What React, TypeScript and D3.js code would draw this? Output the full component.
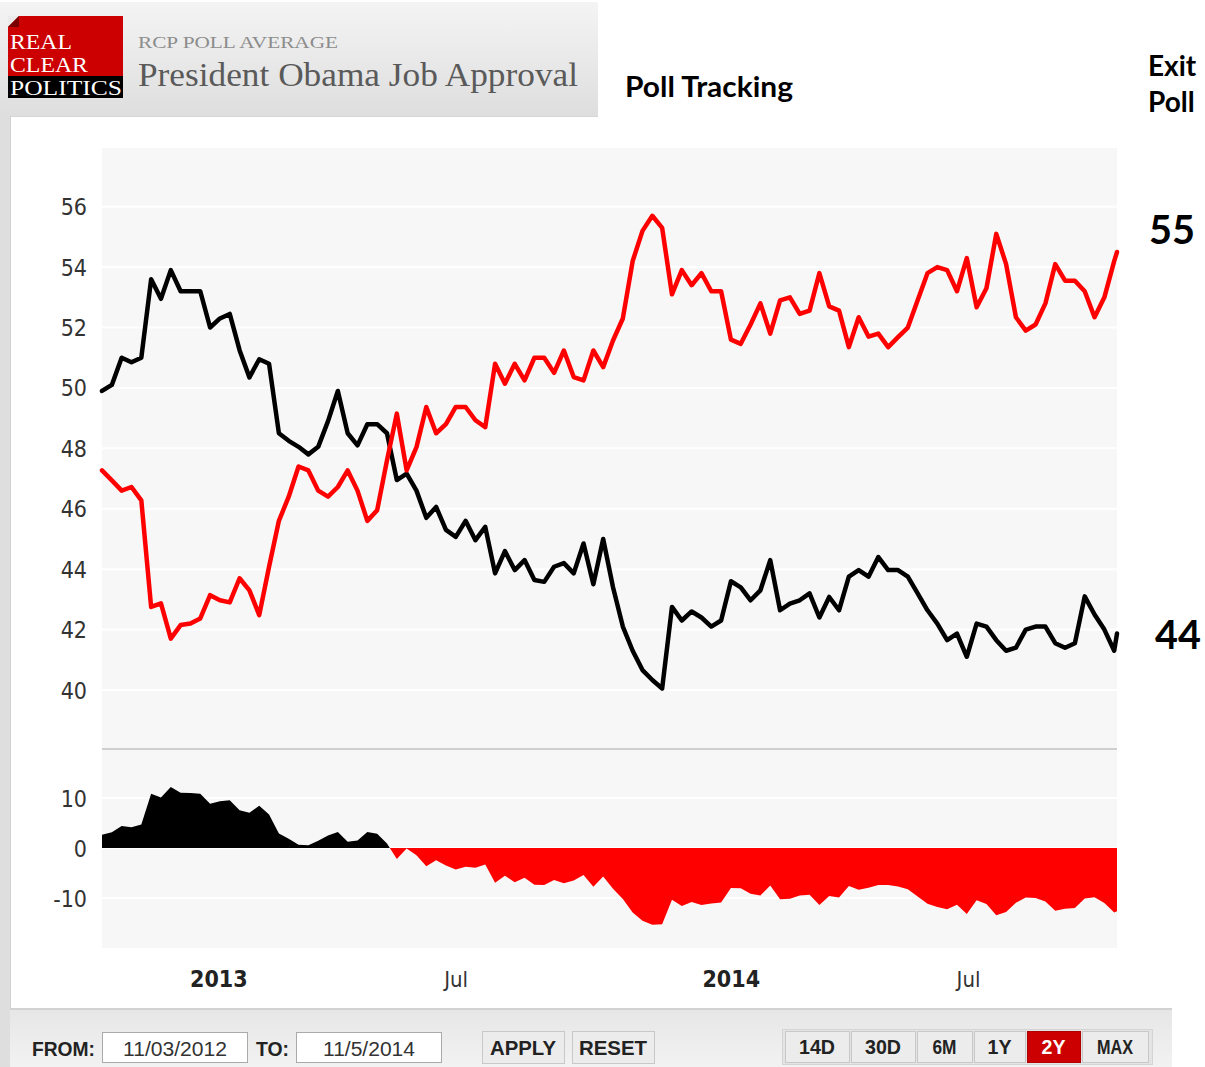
import React from 'react';
import * as d3 from 'd3';

const START = new Date(2012, 9, 31);
const END = new Date(2014, 9, 24);
const STEP_DAYS = 7;

// RCP average, Approve (black) — weekly readings, last value at END
const approve: number[] = [
  49.9, 50.1, 51.0, 50.85, 51.0, 53.6, 52.95, 53.9, 53.2, 53.2,
  53.2, 52.0, 52.3, 52.45, 51.25, 50.35, 50.95, 50.8, 48.5, 48.25,
  48.05, 47.8, 48.05, 48.9, 49.9, 48.5, 48.1, 48.8, 48.8, 48.5,
  46.95, 47.16, 46.6, 45.7, 46.06, 45.3, 45.07, 45.6, 44.96, 45.4,
  43.86, 44.6, 43.97, 44.3, 43.64, 43.58, 44.08, 44.2, 43.86, 44.85,
  43.5, 45.0, 43.4, 42.1, 41.3, 40.66, 40.33, 40.05, 42.75, 42.3,
  42.6, 42.4, 42.1, 42.3, 43.6, 43.4, 42.97, 43.3, 44.3, 42.64,
  42.86, 42.97, 43.2, 42.4, 43.08, 42.64, 43.75, 43.97, 43.75, 44.4,
  43.97, 43.97, 43.75, 43.2, 42.64, 42.2, 41.65, 41.87, 41.1, 42.2,
  42.1, 41.65, 41.3, 41.4, 42.0, 42.1, 42.1, 41.55, 41.4, 41.55,
  43.1, 42.5, 42.0, 41.3, 41.87,
];

// RCP average, Disapprove (red)
const disapprove: number[] = [
  47.27, 46.94, 46.6, 46.72, 46.28, 42.75, 42.87, 41.7, 42.15, 42.2,
  42.37, 43.14, 42.97, 42.9, 43.7, 43.3, 42.48, 44.08, 45.6, 46.4,
  47.4, 47.27, 46.6, 46.4, 46.72, 47.27, 46.6, 45.6, 45.95, 47.6,
  49.15, 47.27, 48.04, 49.37, 48.5, 48.8, 49.37, 49.37, 48.93, 48.7,
  50.8, 50.14, 50.8, 50.25, 51.0, 51.0, 50.5, 51.24, 50.36, 50.25,
  51.24, 50.69, 51.57, 52.3, 54.2, 55.2, 55.7, 55.3, 53.1, 53.9,
  53.4, 53.8, 53.2, 53.2, 51.6, 51.46, 52.1, 52.8, 51.8, 52.9,
  53.0, 52.45, 52.56, 53.8, 52.7, 52.56, 51.35, 52.34, 51.7, 51.8,
  51.35, 51.68, 52.0, 52.9, 53.8, 54.0, 53.9, 53.2, 54.3, 52.67,
  53.3, 55.1, 54.1, 52.34, 51.9, 52.1, 52.8, 54.1, 53.55, 53.55,
  53.2, 52.34, 53.0, 54.2, 54.5,
];

const mainTicks = [40, 42, 44, 46, 48, 50, 52, 54, 56];
const spreadTicks = [-10, 0, 10];
const xLabels = [
  { date: new Date(2013, 0, 1), text: '2013', bold: true },
  { date: new Date(2013, 6, 1), text: 'Jul', bold: false },
  { date: new Date(2014, 0, 1), text: '2014', bold: true },
  { date: new Date(2014, 6, 1), text: 'Jul', bold: false },
];
const exitPoll = { disapprove: '55', approve: '44' };
const rangeButtons = ['14D', '30D', '6M', '1Y', '2Y', 'MAX'];
const activeRange = '2Y';

type Pt = { date: Date; a: number; d: number; s: number };

export default function App() {
  const n = approve.length;
  const data: Pt[] = approve.map((a, i) => ({
    date: i < n - 1 ? d3.timeDay.offset(START, i * STEP_DAYS) : END,
    a,
    d: disapprove[i],
    s: a - disapprove[i],
  }));

  const left = 102, right = 1117;
  const x = d3.scaleTime().domain([START, END]).range([left, right]);
  const y = d3.scaleLinear().domain([40, 56]).range([690, 206.7]);
  const ys = d3.scaleLinear().domain([-10, 10]).range([898, 798]);

  const lineA = d3.line<Pt>().x(p => x(p.date)).y(p => y(p.a));
  const lineD = d3.line<Pt>().x(p => x(p.date)).y(p => y(p.d));
  const area = d3.area<Pt>().x(p => x(p.date)).y0(ys(0)).y1(p => ys(p.s));

  const sans = "'DejaVu Sans Condensed', 'DejaVu Sans', sans-serif";
  const narrow = "'Liberation Sans Narrow', 'Liberation Sans', Arial, sans-serif";
  const calibri = "Lato, 'Open Sans', sans-serif";
  const serif = "'Liberation Serif', 'DejaVu Serif', serif";

  const rbX = [785, 851, 917, 974, 1027, 1082, 1150];

  return (
    <div style={{ position: 'absolute', left: 0, top: 0 }}>
      <svg width={1205} height={1067} style={{ display: 'block' }}>
        <defs>
          <linearGradient id="hdr" x1="0" y1="0" x2="0" y2="1">
            <stop offset="0" stopColor="#f4f4f4" />
            <stop offset="1" stopColor="#dedede" />
          </linearGradient>
          <linearGradient id="bar" x1="0" y1="0" x2="0" y2="1">
            <stop offset="0" stopColor="#e6e6e6" />
            <stop offset="1" stopColor="#f2f2f2" />
          </linearGradient>
          <clipPath id="pos">
            <rect x={left} y={748} width={right - left} height={ys(0) - 748} />
          </clipPath>
          <clipPath id="neg">
            <rect x={left} y={ys(0)} width={right - left} height={948 - ys(0)} />
          </clipPath>
        </defs>

        <rect x={0} y={0} width={1205} height={1067} fill="#fff" />
        {/* header */}
        <rect x={0} y={2} width={598} height={114} fill="url(#hdr)" />
        <rect x={0} y={116} width={10} height={951} fill="#dedede" />
        <rect x={10} y={116} width={588} height={1} fill="#d6d6d6" />
        <rect x={10} y={116} width={1} height={893} fill="#d0d0d0" />

        {/* logo */}
        <rect x={8} y={16} width={115} height={60} fill="#cc0000" />
        <rect x={8} y={76} width={115} height={22} fill="#000" />
        <polygon points="8,16 19,16 8,27" fill="#eaeaea" />
        <polygon points="19,16 8,27 19,27" fill="#7a0000" />
        <text x={10} y={49} fill="#fff" fontFamily={serif} fontSize={20} textLength={62} lengthAdjust="spacingAndGlyphs">REAL</text>
        <text x={10} y={72} fill="#fff" fontFamily={serif} fontSize={20} textLength={78} lengthAdjust="spacingAndGlyphs">CLEAR</text>
        <text x={10} y={95} fill="#fff" fontFamily={serif} fontSize={20} textLength={112} lengthAdjust="spacingAndGlyphs">POLITICS</text>

        <text x={138} y={48} fill="#8c8c8c" fontFamily={serif} fontSize={17} textLength={200} lengthAdjust="spacingAndGlyphs">RCP POLL AVERAGE</text>
        <text x={138} y={86} fill="#5a5a5a" fontFamily={serif} fontSize={33} textLength={440} lengthAdjust="spacingAndGlyphs">President Obama Job Approval</text>

        <text x={625} y={97} fill="#000" fontFamily={calibri} fontWeight="bold" fontSize={28} textLength={168} lengthAdjust="spacingAndGlyphs">Poll Tracking</text>
        <text x={1148} y={76} fill="#000" fontFamily={calibri} fontWeight="bold" fontSize={28}>Exit</text>
        <text x={1148} y={112} fill="#000" fontFamily={calibri} fontWeight="bold" fontSize={28}>Poll</text>
        <text x={1149} y={244} fill="#000" fontFamily={calibri} fontWeight="bold" fontSize={41} textLength={46} lengthAdjust="spacingAndGlyphs">{exitPoll.disapprove}</text>
        <text x={1155} y={649} fill="#000" fontFamily={calibri} fontWeight="bold" fontSize={41} textLength={46} lengthAdjust="spacingAndGlyphs">{exitPoll.approve}</text>

        {/* plot background */}
        <rect x={left} y={148} width={right - left} height={800} fill="#f7f7f7" />
        {mainTicks.map(t => (
          <g key={'m' + t}>
            <line x1={left} x2={right} y1={y(t)} y2={y(t)} stroke="#fff" strokeWidth={2} />
            <text x={87} y={y(t) + 8.5} textAnchor="end" fill="#333" fontFamily={sans} fontSize={23}>{t}</text>
          </g>
        ))}
        {spreadTicks.map(t => (
          <g key={'s' + t}>
            <line x1={left} x2={right} y1={ys(t)} y2={ys(t)} stroke="#fff" strokeWidth={2} />
            <text x={87} y={ys(t) + 8.5} textAnchor="end" fill="#333" fontFamily={sans} fontSize={23}>{t}</text>
          </g>
        ))}
        <line x1={left} x2={right} y1={749} y2={749} stroke="#cfcfcf" strokeWidth={2} />

        {/* spread area */}
        <path d={area(data) || ''} fill="#000" clipPath="url(#pos)" />
        <path d={area(data) || ''} fill="#ff0000" clipPath="url(#neg)" />

        {/* main lines */}
        <path d={lineA(data) || ''} fill="none" stroke="#000" strokeWidth={4.5} strokeLinejoin="round" strokeLinecap="round" />
        <path d={lineD(data) || ''} fill="none" stroke="#ff0000" strokeWidth={4.5} strokeLinejoin="round" strokeLinecap="round" />

        {/* x labels */}
        {xLabels.map(l => (
          <text key={l.text + l.date.getFullYear()} x={x(l.date) + 1} y={987} fill={l.bold ? '#222' : '#333'}
            fontFamily={sans} fontWeight={l.bold ? 'bold' : 'normal'} fontSize={l.bold ? 23 : 22}>{l.text}</text>
        ))}

        {/* bottom bar */}
        <rect x={10} y={1009} width={1162} height={58} fill="url(#bar)" />
        <rect x={10} y={1008} width={1162} height={2} fill="#d2d2d2" />

        <text x={32} y={1056} fill="#222" fontFamily={narrow} fontWeight="bold" fontSize={20} textLength={63} lengthAdjust="spacingAndGlyphs">FROM:</text>
        <rect x={102.5} y={1032.5} width={145} height={30} fill="#fff" stroke="#aaa" />
        <text x={175} y={1056} textAnchor="middle" fill="#333" fontFamily={narrow} fontSize={20} textLength={104} lengthAdjust="spacingAndGlyphs">11/03/2012</text>
        <text x={256} y={1056} fill="#222" fontFamily={narrow} fontWeight="bold" fontSize={20} textLength={33} lengthAdjust="spacingAndGlyphs">TO:</text>
        <rect x={296.5} y={1032.5} width={145} height={30} fill="#fff" stroke="#aaa" />
        <text x={369} y={1056} textAnchor="middle" fill="#333" fontFamily={narrow} fontSize={20} textLength={92} lengthAdjust="spacingAndGlyphs">11/5/2014</text>

        <rect x={482.5} y={1031.5} width={82} height={32} fill="#ececec" stroke="#c8c8c8" />
        <text x={523} y={1055} textAnchor="middle" fill="#222" fontFamily={narrow} fontWeight="bold" fontSize={20} textLength={66} lengthAdjust="spacingAndGlyphs">APPLY</text>
        <rect x={572.5} y={1031.5} width={82} height={32} fill="#ececec" stroke="#c8c8c8" />
        <text x={613} y={1055} textAnchor="middle" fill="#222" fontFamily={narrow} fontWeight="bold" fontSize={20} textLength={68} lengthAdjust="spacingAndGlyphs">RESET</text>

        <rect x={782.5} y={1029.5} width={370} height={35} fill="#e4e4e4" stroke="#d4d4d4" />
        {rangeButtons.map((b, i) => {
          const bx = rbX[i], bw = rbX[i + 1] - rbX[i] - 2;
          const active = b === activeRange;
          return (
            <g key={b}>
              <rect x={bx + 0.5} y={1031.5} width={bw} height={31} fill={active ? '#cc0000' : '#ececec'} stroke={active ? '#b00000' : '#c8c8c8'} />
              <text x={bx + bw / 2} y={1054} textAnchor="middle" fill={active ? '#fff' : '#222'} fontFamily={narrow} fontWeight="bold" fontSize={20}
                textLength={b.length * 12} lengthAdjust="spacingAndGlyphs">{b}</text>
            </g>
          );
        })}
      </svg>
    </div>
  );
}
